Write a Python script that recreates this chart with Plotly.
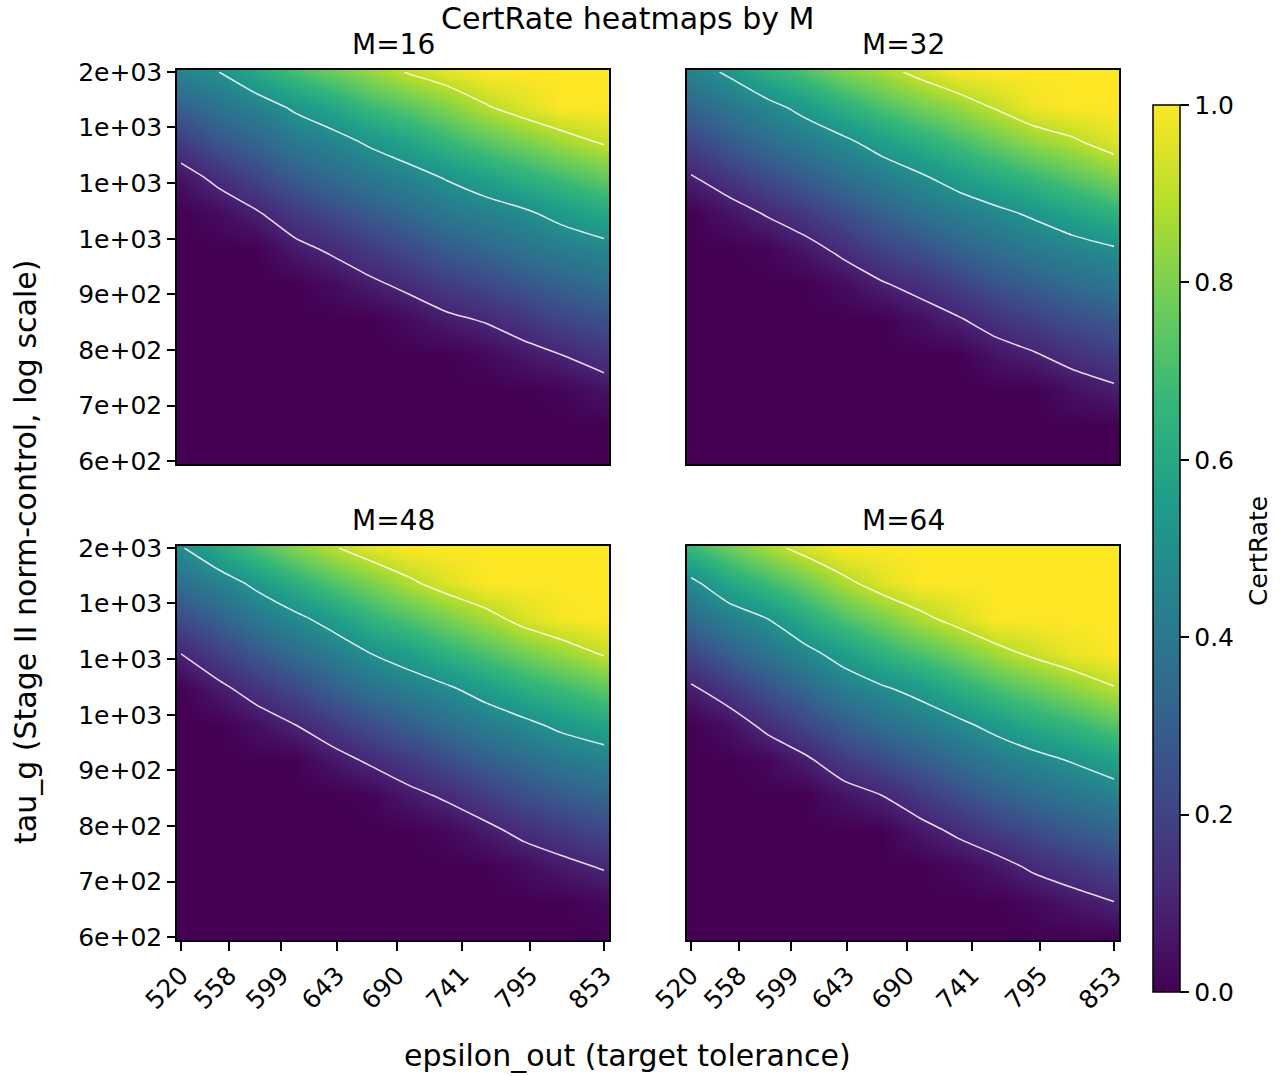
import plotly.graph_objects as go

# ---- data ----
eps_vals = [520, 550, 580, 610, 640, 670, 700, 730, 760, 790, 820, 853]
tau_vals = [600, 656, 717, 784, 858, 938, 1025, 1121, 1226, 1340, 1465, 1601]
panel_titles = ["M=16", "M=32", "M=48", "M=64"]

z_M16 = [
    [0, 0, 0, 0, 0, 0, 0, 0, 0, 0, 0, 0],
    [0, 0, 0, 0, 0, 0, 0, 0, 0, 0, 0, 0],
    [0, 0, 0, 0, 0, 0, 0, 0, 0, 0, .01, .05],
    [0, 0, 0, 0, 0, 0, 0, 0, .02, .06, .10, .15],
    [0, 0, 0, 0, 0, 0, .03, .08, .11, .16, .21, .25],
    [0, 0, 0, 0, .03, .08, .13, .18, .22, .27, .31, .36],
    [0, 0, 0, .07, .12, .18, .23, .29, .33, .38, .42, .46],
    [0, .03, .09, .17, .23, .29, .34, .40, .44, .48, .54, .60],
    [.05, .13, .21, .29, .34, .40, .45, .51, .57, .63, .69, .75],
    [.17, .26, .32, .40, .45, .52, .58, .66, .73, .79, .85, .91],
    [.31, .38, .44, .52, .59, .68, .74, .81, .89, .95, 1, 1],
    [.45, .50, .60, .70, .77, .84, .91, .96, 1, 1, 1, 1],
]
z_M32 = [
    [0, 0, 0, 0, 0, 0, 0, 0, 0, 0, 0, 0],
    [0, 0, 0, 0, 0, 0, 0, 0, 0, 0, 0, 0],
    [0, 0, 0, 0, 0, 0, 0, 0, 0, 0, .04, .08],
    [0, 0, 0, 0, 0, 0, 0, 0, .05, .09, .14, .18],
    [0, 0, 0, 0, 0, 0, .04, .09, .15, .19, .24, .28],
    [0, 0, 0, 0, .03, .09, .14, .20, .26, .30, .35, .39],
    [0, 0, .01, .06, .13, .20, .25, .31, .36, .41, .45, .49],
    [0, .05, .11, .17, .24, .31, .37, .42, .47, .52, .58, .64],
    [.09, .16, .23, .29, .36, .42, .48, .55, .61, .67, .73, .80],
    [.20, .28, .35, .41, .47, .55, .62, .69, .76, .83, .88, .95],
    [.32, .39, .46, .54, .63, .71, .78, .84, .91, .98, 1, 1],
    [.44, .52, .63, .71, .80, .86, .93, .99, 1, 1, 1, 1],
]
z_M48 = [
    [0, 0, 0, 0, 0, 0, 0, 0, 0, 0, 0, 0],
    [0, 0, 0, 0, 0, 0, 0, 0, 0, 0, 0, .02],
    [0, 0, 0, 0, 0, 0, 0, 0, 0, .03, .07, .11],
    [0, 0, 0, 0, 0, 0, 0, .02, .07, .13, .17, .22],
    [0, 0, 0, 0, 0, .01, .07, .12, .18, .24, .29, .33],
    [0, 0, 0, 0, .06, .12, .18, .24, .30, .35, .40, .44],
    [0, 0, .04, .10, .17, .24, .30, .36, .42, .47, .53, .58],
    [0, .07, .15, .22, .30, .37, .43, .48, .55, .62, .68, .74],
    [.10, .19, .27, .35, .42, .50, .56, .64, .71, .78, .84, .91],
    [.23, .31, .40, .47, .55, .65, .72, .79, .86, .94, .99, 1],
    [.36, .44, .53, .63, .72, .80, .88, .95, 1, 1, 1, 1],
    [.49, .60, .71, .81, .89, .96, 1, 1, 1, 1, 1, 1],
]
z_M64 = [
    [0, 0, 0, 0, 0, 0, 0, 0, 0, 0, 0, 0],
    [0, 0, 0, 0, 0, 0, 0, 0, 0, .02, .06, .10],
    [0, 0, 0, 0, 0, 0, 0, .02, .06, .12, .16, .21],
    [0, 0, 0, 0, 0, 0, .06, .12, .18, .23, .28, .32],
    [0, 0, 0, 0, .05, .10, .17, .24, .30, .35, .39, .44],
    [0, 0, .02, .08, .17, .23, .29, .35, .41, .46, .51, .57],
    [0, .04, .13, .21, .29, .36, .41, .47, .54, .61, .66, .73],
    [.08, .16, .25, .33, .42, .48, .54, .62, .70, .76, .82, .89],
    [.21, .30, .38, .46, .55, .64, .71, .78, .86, .92, .97, 1],
    [.34, .43, .50, .61, .71, .79, .87, .94, 1, 1, 1, 1],
    [.47, .59, .68, .77, .87, .95, 1, 1, 1, 1, 1, 1],
    [.66, .77, .86, .94, 1, 1, 1, 1, 1, 1, 1, 1],
]
z_panels = [z_M16, z_M32, z_M48, z_M64]

x_tickvals = [520, 558, 599, 643, 690, 741, 795, 853]
x_ticktext = ["520", "558", "599", "643", "690", "741", "795", "853"]
y_tickvals = [600, 690, 794, 914, 1051, 1210, 1392, 1601]
y_ticktext = ["6e+02", "7e+02", "8e+02", "9e+02", "1e+03", "1e+03", "1e+03", "2e+03"]
cbar_tickvals = [0.0, 0.2, 0.4, 0.6, 0.8, 1.0]
cbar_ticktext = ["0.0", "0.2", "0.4", "0.6", "0.8", "1.0"]
contour_start, contour_end, contour_step = 0.1, 0.9, 0.4

# ---- layout geometry (screen pixels of the reference; page margin removed below) ----
W, H = 1281, 1076
FONT = "DejaVu Sans"
col_px = [(177, 609), (687, 1119)]
row_px = [(70, 464), (546, 940)]


def fx(px):
    return px / W


def fy(py):
    return 1 - py / H


fig = go.Figure()
layout_axes = {}
annotations = []

for i, z in enumerate(z_panels):
    r, c = divmod(i, 2)
    n = i + 1
    xa = "x" if n == 1 else f"x{n}"
    ya = "y" if n == 1 else f"y{n}"
    fig.add_trace(go.Heatmap(
        x=eps_vals, y=tau_vals, z=z, xaxis=xa, yaxis=ya,
        colorscale="Viridis", zmin=0, zmax=1, zsmooth="best",
        showscale=(i == 0), hoverinfo="skip",
        colorbar=dict(
            x=fx(1153), xanchor="left", y=fy(548.5), yanchor="middle",
            lenmode="pixels", len=887, thicknessmode="pixels", thickness=27,
            xpad=0, ypad=0, outlinecolor="black", outlinewidth=1.5,
            tickvals=cbar_tickvals, ticktext=cbar_ticktext,
            ticks="outside", ticklen=9, tickwidth=1.5, tickcolor="black",
            tickfont=dict(family=FONT, size=25, color="black"),
        ),
    ))
    fig.add_trace(go.Contour(
        x=eps_vals, y=tau_vals, z=z, xaxis=xa, yaxis=ya,
        autocontour=False,
        contours=dict(start=contour_start, end=contour_end, size=contour_step,
                      coloring="none"),
        line=dict(color="rgba(255,255,255,0.85)", width=1.5, smoothing=0.6),
        showscale=False, hoverinfo="skip",
    ))
    bottom = (r == 1)
    left = (c == 0)
    layout_axes["xaxis" if n == 1 else f"xaxis{n}"] = dict(
        domain=[fx(col_px[c][0]), fx(col_px[c][1])], anchor=ya,
        range=[516.85, 856.9], automargin=False,
        showgrid=False, zeroline=False,
        showline=True, mirror=True, linecolor="black", linewidth=1.5,
        tickvals=x_tickvals, ticktext=x_ticktext,
        ticks="outside" if bottom else "", ticklen=9, tickwidth=1.5, tickcolor="black",
        showticklabels=bottom, tickangle=-45,
        tickfont=dict(family=FONT, size=25, color="black"),
    )
    layout_axes["yaxis" if n == 1 else f"yaxis{n}"] = dict(
        domain=[fy(row_px[r][1]), fy(row_px[r][0])], anchor=xa,
        type="log", range=[2.7749, 3.2066], automargin=False,
        showgrid=False, zeroline=False,
        showline=True, mirror=True, linecolor="black", linewidth=1.5,
        tickvals=y_tickvals, ticktext=y_ticktext,
        ticks="outside" if left else "", ticklen=8, tickwidth=1.5, tickcolor="black",
        showticklabels=left,
        tickfont=dict(family=FONT, size=25, color="black"),
    )
    cx = fx((col_px[c][0] + col_px[c][1]) / 2)
    annotations.append(dict(
        text=panel_titles[i], x=cx, y=fy(row_px[r][0] - 26),
        xref="paper", yref="paper", xanchor="center", yanchor="middle",
        showarrow=False, font=dict(family=FONT, size=28, color="black"),
    ))

annotations += [
    dict(text="CertRate heatmaps by M", x=fx(627), y=1, xref="paper", yref="paper",
         xanchor="center", yanchor="top", showarrow=False, borderpad=0,
         font=dict(family=FONT, size=30, color="black")),
    dict(text="epsilon_out (target tolerance)", x=fx(627), y=fy(1055),
         xref="paper", yref="paper", xanchor="center", yanchor="middle", showarrow=False,
         font=dict(family=FONT, size=30, color="black")),
    dict(text="tau_g (Stage II norm-control, log scale)", x=fx(25), y=fy(552),
         xref="paper", yref="paper", xanchor="center", yanchor="middle", showarrow=False,
         textangle=-90, font=dict(family=FONT, size=30, color="black")),
    dict(text="CertRate", x=fx(1258), y=fy(551),
         xref="paper", yref="paper", xanchor="center", yanchor="middle", showarrow=False,
         textangle=-90, font=dict(family=FONT, size=25, color="black")),
]

fig.update_layout(
    template="none",
    width=W, height=H, margin=dict(l=0, r=0, t=0, b=0, autoexpand=False),
    paper_bgcolor="white", plot_bgcolor="white",
    font=dict(family=FONT, color="black"),
    annotations=annotations, showlegend=False,
    **layout_axes,
)

fig.write_html("out.html", config={"displayModeBar": False},
               post_script="document.body.style.margin='0px';")
